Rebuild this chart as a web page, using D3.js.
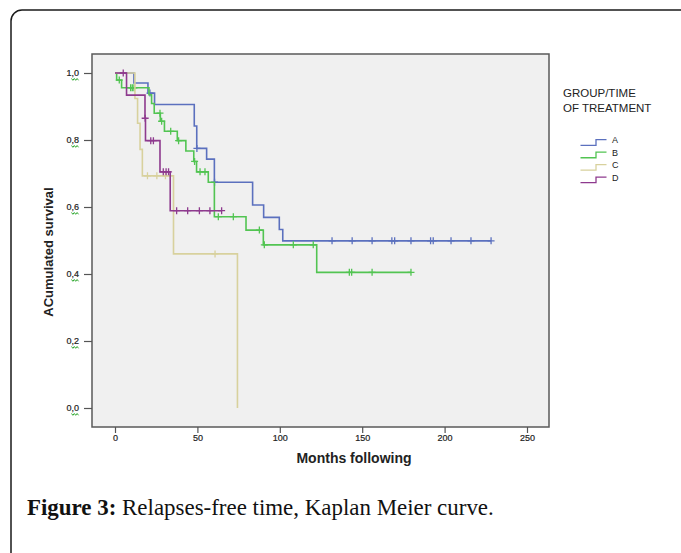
<!DOCTYPE html>
<html>
<head>
<meta charset="utf-8">
<script src="https://cdn.jsdelivr.net/npm/d3@7"></script>
<style>
  body { margin: 0; background: #fff; }
  svg { display: block; }
  .tick-label { font-family: "Liberation Sans", Arial, sans-serif; font-size: 9px; fill: #222; }
</style>
</head>
<body>
<div class="chart"></div>
<script>
"use strict";

// groups of the legend
const groups = ["A", "B", "C", "D"];
const colors = ["#5b70be", "#52c452", "#d8d19d", "#8e3a8e"];

// event times (months) and survival after each event
const aTimes = [11.5, 20, 24, 48.1, 49.6, 55.6, 60.3, 83.5, 90.2, 99.7, 101.8];
const aSurv = [0.97, 0.94, 0.906, 0.842, 0.775, 0.743, 0.674, 0.606, 0.569, 0.533, 0.499];
const aCensor = [21.2, 49.7, 60.4, 131.7, 143.9, 156, 168, 169.7, 179.6, 191.5, 193.1, 203.9, 216, 228.2];

const bTimes = [1, 4, 20.6, 22.2, 23.8, 27.5, 30, 37.8, 43, 47.8, 49.5, 56.6, 60.3, 79.5, 90, 122.4];
const bSurv = [0.979, 0.956, 0.935, 0.909, 0.88, 0.856, 0.826, 0.798, 0.767, 0.736, 0.705, 0.674, 0.571, 0.531, 0.487, 0.405];
const bCensor = [2.6, 9.5, 10.5, 11.5, 27.3, 28.3, 33.8, 38.6, 48.3, 51.6, 54.6, 62.7, 71.8, 87.6, 90.6, 108.2, 120.3, 142.2, 143.6, 156, 179.6];

const cTimes = [12.1, 13.7, 15.2, 16.6, 35.5, 74.3];
const cSurv = [0.924, 0.85, 0.772, 0.693, 0.46, 0];
const cCensor = [19.7, 25.4, 30.6, 60.7];

const dTimes = [7, 18.2, 18.5, 27.3, 33.5];
const dSurv = [0.934, 0.865, 0.798, 0.705, 0.589];
const dCensor = [5, 18.3, 21.7, 23.3, 29.3, 31, 32.5, 37.4, 44.1, 51.2, 57.6, 64.7];

const xTicks = [0, 50, 100, 150, 200, 250];
const yTicks = [0, 0.2, 0.4, 0.6, 0.8, 1.0];

const series = [
  { name: groups[0], times: aTimes, surv: aSurv, censor: aCensor, color: colors[0] },
  { name: groups[1], times: bTimes, surv: bSurv, censor: bCensor, color: colors[1] },
  { name: groups[2], times: cTimes, surv: cSurv, censor: cCensor, color: colors[2] },
  { name: groups[3], times: dTimes, surv: dSurv, censor: dCensor, color: colors[3] }
];

const W = 681, H = 553;
const frame = { left: 92, top: 54, right: 549, bottom: 427 };

const svg = d3.select(".chart").append("svg").attr("width", W).attr("height", H);

// outer box of the figure
svg.append("rect")
  .attr("x", 11).attr("y", 10)
  .attr("width", 720).attr("height", 600)
  .attr("rx", 11)
  .attr("fill", "none")
  .attr("stroke", "#1a1a1a")
  .attr("stroke-width", 1.5);

// plot area
svg.append("rect")
  .attr("x", frame.left).attr("y", frame.top)
  .attr("width", frame.right - frame.left)
  .attr("height", frame.bottom - frame.top)
  .attr("fill", "#f0f0f0")
  .attr("stroke", "#5a5a5a")
  .attr("stroke-width", 1.5);

const x = d3.scaleLinear().domain([0, 250]).range([115, 527]);
const y = d3.scaleLinear().domain([0, 1]).range([408, 73]);

const fmt = (d) => d3.format(".1f")(d).replace(".", ",");

// y axis
const yAxis = d3.axisLeft(y).tickValues(yTicks).tickSize(8).tickFormat(fmt);
const yGroup = svg.append("g")
  .attr("transform", `translate(${frame.left},0)`)
  .call(yAxis)
  .call((g) => g.select(".domain").remove());
yGroup.selectAll(".tick line").attr("stroke", "#555").attr("stroke-width", 1.2);
yGroup.selectAll(".tick text")
  .attr("class", "tick-label")
  .attr("x", -13)
  .attr("dy", "0.32em")
  .attr("stroke", "#222")
  .attr("stroke-width", 0.2);

// green spell-check squiggles under the y labels
yGroup.selectAll(".tick")
  .append("path")
  .attr("d", "M-20.5,5 l1.4,1.8 l1.4,-1.8 l1.4,1.8 l1.4,-1.8 l1.4,1.8")
  .attr("fill", "none")
  .attr("stroke", "#2fa82f")
  .attr("stroke-width", 1);

// x axis
const xAxis = d3.axisBottom(x).tickValues(xTicks).tickSize(6).tickFormat(d3.format("d"));
const xGroup = svg.append("g")
  .attr("transform", `translate(0,${frame.bottom})`)
  .call(xAxis)
  .call((g) => g.select(".domain").remove());
xGroup.selectAll(".tick line").attr("stroke", "#555").attr("stroke-width", 1.2);
xGroup.selectAll(".tick text")
  .attr("class", "tick-label")
  .attr("y", 14)
  .attr("dy", 0)
  .attr("stroke", "#222")
  .attr("stroke-width", 0.2);

// axis titles
svg.append("text")
  .attr("x", 354)
  .attr("y", 463)
  .attr("text-anchor", "middle")
  .attr("font-family", "Liberation Sans, Arial, sans-serif")
  .attr("font-size", 14)
  .attr("font-weight", 700)
  .attr("fill", "#222")
  .text("Months following");

svg.append("text")
  .attr("transform", "translate(53,252) rotate(-90)")
  .attr("text-anchor", "middle")
  .attr("font-family", "Liberation Sans, Arial, sans-serif")
  .attr("font-size", 13)
  .attr("font-weight", 700)
  .attr("fill", "#222")
  .text("ACumulated survival");

// survival curves
const line = d3.line()
  .x((d) => x(d[0]))
  .y((d) => y(d[1]))
  .curve(d3.curveStepAfter);

function survAt(s, t) {
  let v = 1;
  s.times.forEach((tt, i) => {
    if (tt <= t) v = s.surv[i];
  });
  return v;
}

series.forEach((s) => {
  const pts = [[0, 1]].concat(s.times.map((t, i) => [t, s.surv[i]]));
  const last = s.surv[s.surv.length - 1];
  const lastCensor = d3.max(s.censor);
  if (last > 0 && lastCensor > s.times[s.times.length - 1]) pts.push([lastCensor, last]);

  const g = svg.append("g").attr("stroke", s.color).attr("fill", "none");
  g.append("path")
    .attr("d", line(pts))
    .attr("stroke-width", 1.6);

  // censor marks
  g.selectAll("path.mark")
    .data(s.censor)
    .join("path")
    .attr("class", "mark")
    .attr("stroke-width", 1.3)
    .attr("d", (t) => {
      const cx = x(t), cy = y(survAt(s, t));
      return `M${cx - 3.5},${cy}H${cx + 3.5}M${cx},${cy - 3.5}V${cy + 3.5}`;
    });
});

// legend
const legend = svg.append("g")
  .attr("font-family", "Liberation Sans, Arial, sans-serif")
  .attr("fill", "#222");

legend.append("text")
  .attr("x", 563)
  .attr("y", 97)
  .attr("font-size", 11.5)
  .text("GROUP/TIME");
legend.append("text")
  .attr("x", 563)
  .attr("y", 112)
  .attr("font-size", 11.5)
  .text("OF TREATMENT");

const item = legend.selectAll("g.item")
  .data(series)
  .join("g")
  .attr("class", "item")
  .attr("transform", (d, i) => `translate(0,${145.3 + i * 12.45})`);

item.append("path")
  .attr("d", "M580.5,0H596V-5.6H606.5")
  .attr("fill", "none")
  .attr("stroke", (d) => d.color)
  .attr("stroke-width", 1.3);

item.append("text")
  .attr("x", 612)
  .attr("y", -2)
  .attr("font-size", 9)
  .text((d) => d.name);

// caption
const caption = svg.append("text")
  .attr("x", 27)
  .attr("y", 515)
  .attr("font-family", "Liberation Serif, Times New Roman, serif")
  .attr("font-size", 19)
  .attr("fill", "#111");
caption.append("tspan").attr("font-weight", 700).text("Figure 3:");
caption.append("tspan").text(" Relapses-free time, Kaplan Meier curve.");

// fit the caption to the width it has in the figure
const capW = caption.node().getComputedTextLength();
caption.attr("font-size", 19 * 467 / capW);
</script>
</body>
</html>
